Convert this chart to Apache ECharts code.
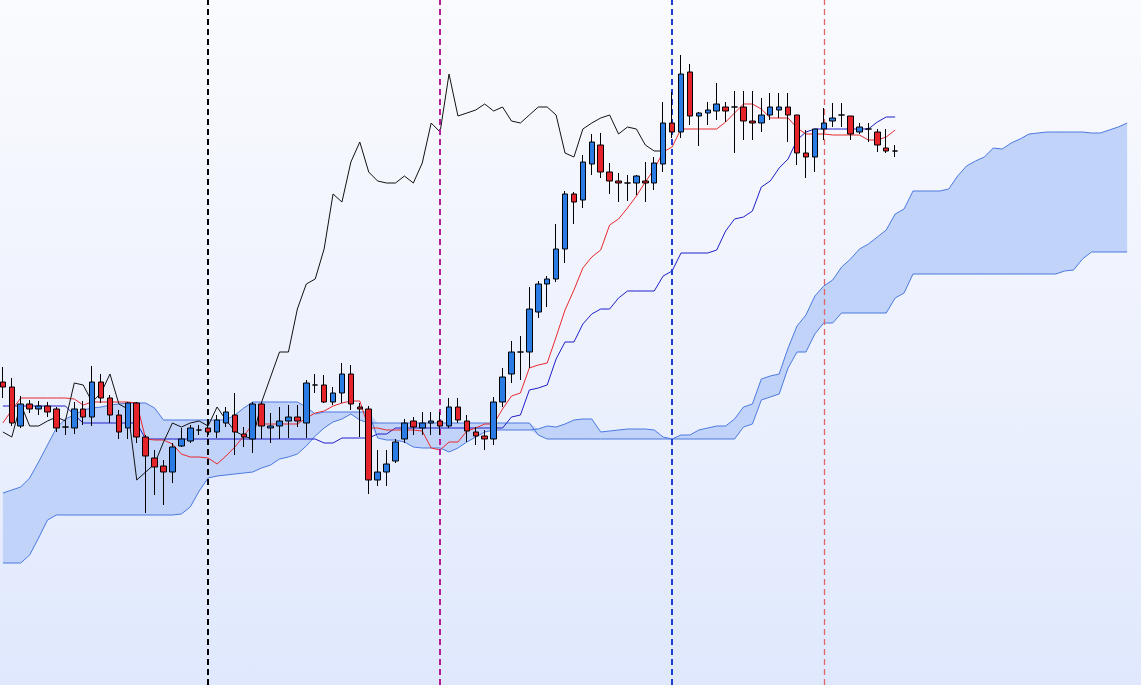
<!DOCTYPE html>
<html>
<head>
<meta charset="utf-8">
<script src="https://cdn.jsdelivr.net/npm/echarts/dist/echarts.min.js"></script>
<style>
html,body{margin:0;padding:0;overflow:hidden;width:1141px;height:685px;}
body{background:linear-gradient(to bottom,#fafbfe 0%,#eef2fd 50%,#dfe8fd 100%);position:relative;}
#chart{position:absolute;left:-2px;top:0;width:1143px;height:685px;}
</style>
</head>
<body>
<div id="chart"></div>
<script>
// ---- candle data (price units) ----
const opens = [
 618,613,574,596,591,594,591,573,572,591,
 583,618,602,585,572,597,563,542,534,528,
 554,559,570,572,568,577,585,566,561,596,
 572,574,579,583,577,615,615,598,607,626,
 593,591,520,528,539,561,579,572,577,579,
 574,593,579,568,564,561,598,626,648,648,
 688,716,721,751,806,800,836,855,828,819,
 817,817,819,817,836,877,868,928,884,887,
 889,893,893,893,879,877,885,890,893,885,
 847,843,871,879,885,884,868,871,868,852,
 849];
const closes = [
 613,577,596,591,594,588,572,573,591,583,
 618,602,585,568,597,563,544,533,528,553,
 561,572,570,568,580,588,568,563,596,574,
 574,579,583,579,617,615,598,607,626,596,
 591,520,528,536,558,577,573,577,579,574,
 593,580,569,564,561,598,623,648,648,691,
 716,721,751,806,798,838,858,828,819,817,
 817,824,817,837,877,868,926,884,887,890,
 896,889,893,879,877,885,893,893,885,847,
 843,871,877,882,885,866,873,871,855,849,
 849];
const lows = [
 602,574,572,587,585,583,568,565,566,575,
 574,597,577,561,561,557,487,505,495,517,
 553,557,565,563,562,573,545,553,547,561,
 557,561,562,573,562,607,597,595,597,590,
 563,506,514,514,537,557,565,565,565,565,
 572,577,558,555,550,555,593,617,620,632,
 682,693,718,737,776,792,825,822,806,798,
 799,805,798,810,828,862,862,875,854,875,
 880,878,847,860,860,868,880,882,858,835,
 822,828,860,873,873,860,866,858,848,847,
 843];
const highs = [
 633,622,604,600,599,598,593,580,598,599,
 634,626,605,590,598,598,565,550,540,557,
 572,575,575,579,585,593,607,573,598,597,
 587,593,595,595,620,626,625,613,637,635,
 597,594,550,550,561,581,583,588,588,588,
 602,602,585,573,570,603,632,659,664,713,
 719,724,776,809,808,845,866,867,837,827,
 825,825,838,843,898,908,945,936,888,898,
 917,898,909,909,909,902,907,907,907,885,
 870,871,892,897,897,884,877,877,871,871,
 855];

// ---- Ichimoku lines (price units) ----
const tenkan = [
 577,590,602,602,602,602,602,602,601,595,
 598,598,598,598,598,597,561,560,560,556,
 546,543,543,542,536,544,553,564,576,576,
 576,576,576,576,582,587,589,594,597,599,
 599,572,572,570,570,570,570,569,552,550,
 558,558,569,572,576,576,591,604,607,632,
 635,637,663,690,710,732,743,750,775,781,
 792,804,818,831,848,853,871,871,871,871,
 871,878,887,896,896,891,882,882,882,872,
 866,866,866,865,865,865,865,860,860,863,
 870];
const kijun = [
 594,594,594,594,594,594,594,594,585,577,
 577,577,577,577,577,577,561,561,561,561,
 561,561,561,561,561,561,561,561,561,561,
 561,561,561,561,561,561,557,557,562,562,
 562,562,566,566,572,572,572,572,572,572,
 572,572,572,572,572,572,572,583,585,610,
 612,615,641,658,658,676,686,691,691,702,
 709,709,709,709,724,729,747,747,747,747,
 750,769,781,783,789,813,819,832,841,860,
 868,871,871,871,871,871,871,871,878,883,
 883];
const senkouA = [
 507,510,513,522,538,555,572,581,585,590,
 592,593,595,596,597,597,597,592,580,580,
 580,580,580,580,580,580,585,592,598,598,
 598,598,598,598,593,586,588,588,588,588,
 588,588,562,560,560,558,553,552,552,552,
 548,552,558,563,568,570,570,570,570,570,
 571,574,573,576,580,581,581,568,569,570,
 571,571,571,570,563,561,565,565,570,572,
 574,574,581,593,596,621,624,626,652,674,
 685,704,714,720,733,741,751,756,763,770,
 786,791,809,809,809,809,811,824,834,839,
 843,852,851,857,861,866,867,868,868,868,
 868,868,867,867,870,873,877];
const senkouB = [
 437,437,437,445,462,480,485,485,485,485,
 485,485,485,485,485,485,485,485,485,485,
 486,493,509,522,524,525,526,527,528,532,
 535,541,543,546,554,564,572,578,581,586,
 580,577,577,577,577,577,577,577,577,577,
 577,577,577,577,577,577,577,577,577,577,
 565,561,561,561,561,561,561,561,561,561,
 561,561,561,561,561,561,561,561,561,561,
 561,561,561,573,576,600,603,606,632,648,
 648,666,677,677,687,687,687,687,687,687,
 702,707,726,726,726,726,726,726,726,726,
 726,726,726,726,726,726,726,726,726,729,
 730,741,748,748,748,748,748];

// bar indices of the vertical event markers
const markerIndices = [23, 49, 75, 92];
const lagShift = 26;

// ---- derived structures ----
const categories = senkouA.map((_, i) => String(i));
const chikou = categories.map((_, i) => (i + lagShift < closes.length ? closes[i + lagShift] : null));
const candles = opens.map((o, i) => [o, closes[i], lows[i], highs[i]]);
const cloudBase = senkouA.map((a, i) => Math.min(a, senkouB[i]));
const cloudBand = senkouA.map((a, i) => Math.abs(a - senkouB[i]));

const markerStyles = [
  {color: '#000000', width: 2},
  {color: '#b21d9c', width: 2},
  {color: '#1d3fcf', width: 2},
  {color: '#e06666', width: 1.3}
];

const chart = echarts.init(document.getElementById('chart'), null, {renderer: 'canvas'});
const lineBase = {type: 'line', symbol: 'none', silent: true, animation: false};
chart.setOption({
  backgroundColor: 'transparent',
  animation: false,
  grid: {left: 0.44, right: 9.4, top: 0, bottom: 0, containLabel: false},
  xAxis: {type: 'category', data: categories, boundaryGap: true, show: false},
  yAxis: {type: 'value', min: 315, max: 1000, show: false, splitLine: {show: false}},
  series: [
    Object.assign({}, lineBase, {name: 'cloudBase', data: cloudBase, stack: 'cloud',
      lineStyle: {opacity: 0}, z: 1}),
    Object.assign({}, lineBase, {name: 'cloudBand', data: cloudBand, stack: 'cloud',
      lineStyle: {opacity: 0}, areaStyle: {color: '#c2d3f9', opacity: 1}, z: 1}),
    Object.assign({}, lineBase, {name: 'Senkou A', data: senkouA,
      lineStyle: {color: '#4a79df', width: 1}, z: 2}),
    Object.assign({}, lineBase, {name: 'Senkou B', data: senkouB,
      lineStyle: {color: '#4a79df', width: 1}, z: 2}),
    Object.assign({}, lineBase, {name: 'Kijun', data: kijun,
      lineStyle: {color: '#1e1ec8', width: 1}, z: 3}),
    Object.assign({}, lineBase, {name: 'Tenkan', data: tenkan,
      lineStyle: {color: '#e8282c', width: 1}, z: 3}),
    Object.assign({}, lineBase, {name: 'Chikou', data: chikou,
      lineStyle: {color: '#111111', width: 1}, z: 3}),
    {
      type: 'candlestick', name: 'Price', data: candles, barWidth: 6, z: 5,
      animation: false, silent: true,
      itemStyle: {
        color: '#2a7be4', color0: '#e5232b',
        borderColor: '#000000', borderColor0: '#000000', borderColorDoji: '#000000',
        borderWidth: 1
      },
      markLine: {
        silent: true, animation: false, symbol: ['none', 'none'],
        label: {show: false},
        data: markerIndices.map((idx, k) => ({
          xAxis: categories[idx],
          lineStyle: {color: markerStyles[k].color, width: markerStyles[k].width, type: [6, 4]}
        }))
      }
    }
  ]
});
</script>
</body>
</html>
